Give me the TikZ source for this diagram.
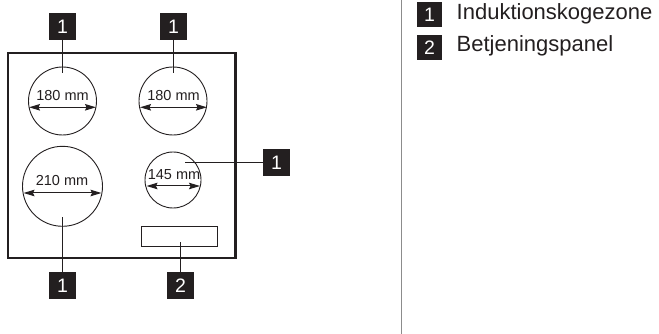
\documentclass[tikz,border=0pt]{standalone}
\usepackage{fontspec}
\setmainfont{Liberation Sans}
\usetikzlibrary{arrows.meta}
\definecolor{ink}{HTML}{231F20}
\tikzset{
  badge/.style={fill=ink,text=white,minimum size=27pt,inner sep=0pt,font=\fontsize{19.5}{19.5}\selectfont},
  lbadge/.style={fill=ink,text=white,minimum size=25pt,inner sep=0pt,font=\fontsize{19.5}{19.5}\selectfont},
  zone/.style={circle,draw=ink,line width=0.9pt,inner sep=0pt},
  leader/.style={draw=ink,line width=1.2pt},
  dim/.style={draw=ink,line width=1pt,{Stealth[length=11pt,width=6.5pt,inset=1.5pt]}-{Stealth[length=11pt,width=6.5pt,inset=1.5pt]}},
  dimtext/.style={text=ink,inner sep=0pt,font=\fontsize{14.5}{14.5}\selectfont},
  legend/.style={anchor=base west,text=ink,inner sep=0pt,font=\fontsize{22}{22}\selectfont}
}
\begin{document}
\begin{tikzpicture}[x=1pt,y=-1pt]
\useasboundingbox (0,0) rectangle (659,334);
% frame and panel
\node[draw=ink,line width=2.2pt,minimum width=227.5pt,minimum height=205pt,inner sep=0pt] (hob) at (121.75,155.5) {};
\node[draw=ink,line width=1.1pt,minimum width=76pt,minimum height=19.6pt,inner sep=0pt] (panel) at (179.7,236.5) {};
% zones
\node[zone,minimum size=68pt] (z1) at (62.5,101) {};
\node[zone,minimum size=68pt] (z2) at (173,101) {};
\node[zone,minimum size=80pt] (z3) at (62.5,186.3) {};
\node[zone,minimum size=56pt] (z4) at (173,180) {};
% badges
\node[badge] (b1) at (62.5,26.5) {1};
\node[badge] (b2) at (173.5,26.5) {1};
\node[badge] (b3) at (276.5,162.5) {1};
\node[badge] (b4) at (62.5,285.5) {1};
\node[badge] (b5) at (180.5,285.5) {2};
% leader ends
\coordinate (e1) at (62.5,73);
\coordinate (e2) at (173.5,73);
\coordinate (e3) at (185,162.5);
\coordinate (e4) at (62.5,217);
\coordinate (e5) at (180.5,241.7);
\draw[leader] (b1) -- (e1);
\draw[leader] (b2) -- (e2);
\draw[leader] (b3) -- (e3);
\draw[leader] (b4) -- (e4);
\draw[leader] (b5) -- (e5);
% diameters
\coordinate (d1a) at (29,107.3); \coordinate (d1b) at (96,107.3);
\coordinate (d2a) at (140,107.3); \coordinate (d2b) at (207,107.3);
\coordinate (d3a) at (23.5,193); \coordinate (d3b) at (101.5,193);
\coordinate (d4a) at (146.5,186); \coordinate (d4b) at (200,186);
\draw[dim] (d1a) -- (d1b);
\draw[dim] (d2a) -- (d2b);
\draw[dim] (d3a) -- (d3b);
\draw[dim] (d4a) -- (d4b);
\node[dimtext] (t1) at (62.5,96) {180 mm};
\node[dimtext] (t2) at (173.5,96) {180 mm};
\node[dimtext] (t3) at (62,181) {210 mm};
\node[dimtext] (t4) at (174,175) {145 mm};
% separator
\coordinate (s1) at (401.5,0);
\coordinate (s2) at (401.5,334);
\draw[draw=black!45,line width=1pt] (s1) -- (s2);
% legend
\node[lbadge] (l1) at (429.5,14.5) {1};
\node[lbadge] (l2) at (429.5,47.5) {2};
\node[legend] (lt1) at (456.5,20) {Induktionskogezone};
\node[legend] (lt2) at (456.5,52) {Betjeningspanel};
\end{tikzpicture}
\end{document}
